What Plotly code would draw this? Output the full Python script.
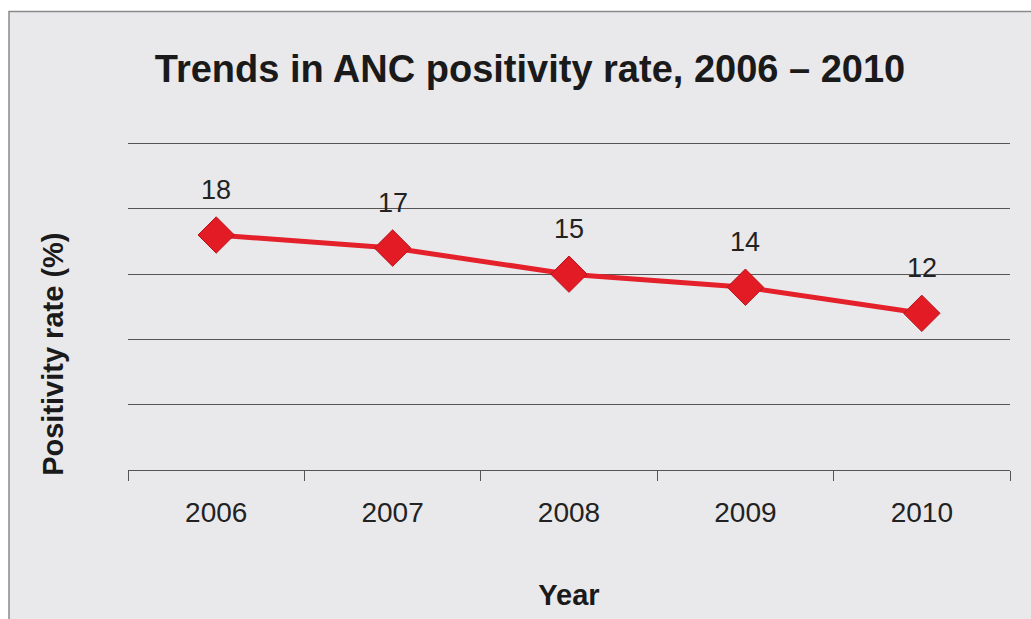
import plotly.graph_objects as go

years = [2006, 2007, 2008, 2009, 2010]
rates = [18, 17, 15, 14, 12]
title_text = "Trends in ANC positivity rate, 2006 – 2010"
x_title = "Year"
y_title = "Positivity rate (%)"

FONT = "Liberation Sans, Arial, sans-serif"
Y_TOP = 25.2
PLOT_H = 326 * Y_TOP / 25
T_MARGIN = 619 - 149 - PLOT_H

fig = go.Figure()
fig.add_trace(go.Scatter(
    x=years, y=rates, mode="lines+markers",
    line=dict(color="#e4202a", width=5),
    marker=dict(symbol="diamond", size=28, color="#e21b25",
                line=dict(color="#b8141c", width=1)),
    hoverinfo="skip", showlegend=False, cliponaxis=False,
))

for yr, v in zip(years, rates):
    fig.add_annotation(x=yr, y=v, text=str(v), showarrow=False, yshift=45,
                       font=dict(family=FONT, size=27, color="#222222"))

# y-axis title (placed lower than the plot centre as in the reference)
fig.add_annotation(xref="paper", yref="paper", x=(53 - 128) / 882, y=(470 - 355) / PLOT_H,
                   text="<b>" + y_title + "</b>", textangle=-90, showarrow=False,
                   xanchor="center", yanchor="middle",
                   font=dict(family=FONT, size=29, color="#1a1a1a"))

# background panel with frame
fig.add_shape(type="rect", xref="paper", yref="paper",
              x0=(9 - 128) / 882, x1=(1045 - 128) / 882,
              y0=(470 - 630) / PLOT_H, y1=(470 - 12) / PLOT_H,
              fillcolor="#e9e9ec", line=dict(color="#8a8a8a", width=1.5), layer="below")

boundaries = [y - 0.5 for y in years] + [years[-1] + 0.5]

fig.update_layout(
    width=1031, height=619,
    margin=dict(l=128, r=21, t=T_MARGIN, b=149, autoexpand=False),
    paper_bgcolor="white", plot_bgcolor="rgba(0,0,0,0)",
    title=dict(text="<b>" + title_text + "</b>", x=530 / 1031, xanchor="center",
               y=1 - 69 / 619, yanchor="middle",
               font=dict(family=FONT, size=38, color="#1a1a1a")),
    xaxis=dict(range=[years[0] - 0.5, years[-1] + 0.5], tickvals=years,
               ticktext=[str(y) for y in years], ticks="", showline=True,
               linecolor="#555555", linewidth=1, showgrid=False, zeroline=False,
               ticklabelstandoff=17,
               tickfont=dict(family=FONT, size=28, color="#222222"),
               minor=dict(tickvals=boundaries, ticks="outside", ticklen=10,
                          tickcolor="#555555", tickwidth=1, showgrid=False),
               title=dict(text="<b>" + x_title + "</b>", standoff=58,
                          font=dict(family=FONT, size=29, color="#1a1a1a"))),
    yaxis=dict(range=[0, Y_TOP], tickvals=[5, 10, 15, 20, 25], showticklabels=False, showgrid=True,
               gridcolor="#555555", gridwidth=1, zeroline=False, showline=False),
)

fig.write_html("out.html", post_script="document.body.style.margin='0px';",
               config={"displayModeBar": False})
